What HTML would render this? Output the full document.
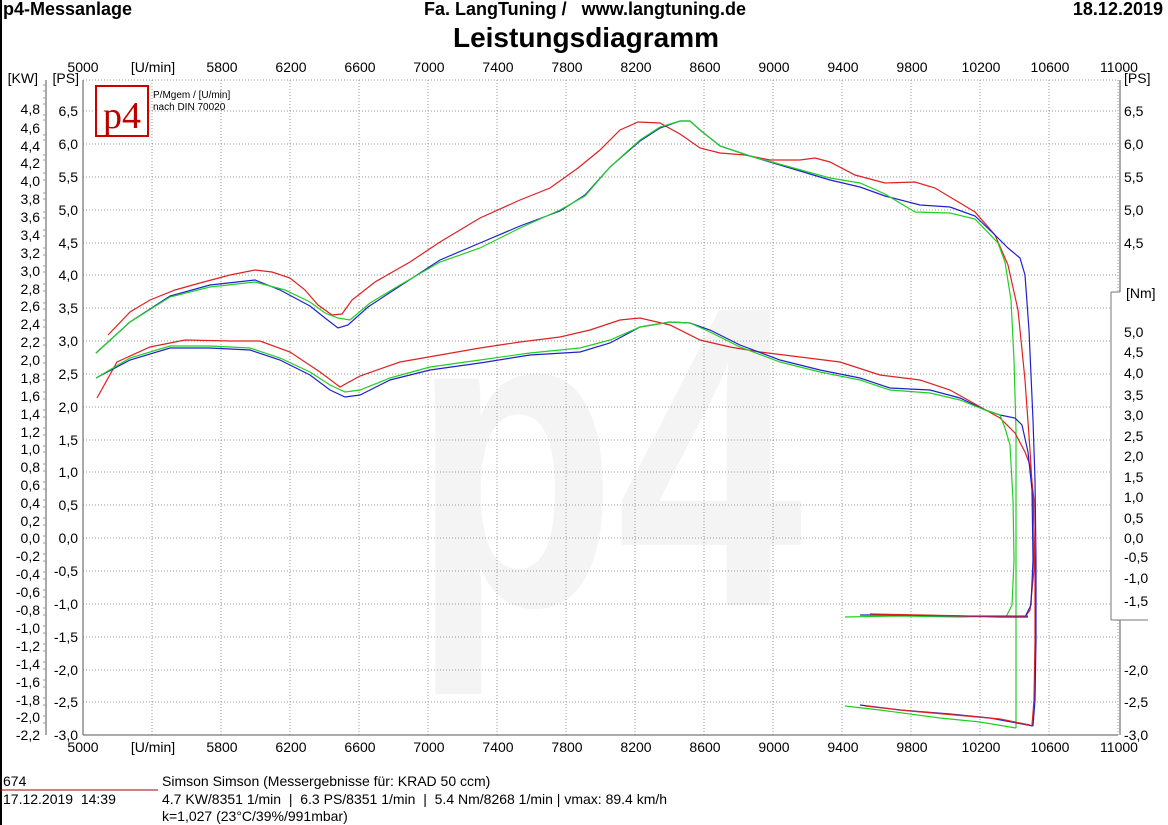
<!DOCTYPE html>
<html><head><meta charset="utf-8"><style>
body{margin:0;background:#fff;}
svg{display:block;font-family:"Liberation Sans",Arial,sans-serif;}
</style></head><body>
<svg width="1168" height="825" viewBox="0 0 1168 825" xmlns="http://www.w3.org/2000/svg">
<rect width="1168" height="825" fill="#fff"/>
<rect x="0" y="0" width="2" height="825" fill="#000"/>
<text transform="translate(412,605) scale(1,1.28)" font-size="335" font-weight="bold" fill="#f4f4f4" font-family="Liberation Sans,sans-serif">p4</text>
<text x="3" y="15" font-size="18" font-weight="bold">p4-Messanlage</text>
<text x="585" y="15" font-size="18" font-weight="bold" text-anchor="middle" xml:space="preserve">Fa. LangTuning /   www.langtuning.de</text>
<text x="1163" y="15" font-size="18" font-weight="bold" text-anchor="end">18.12.2019</text>
<text x="586" y="47" font-size="28" font-weight="bold" text-anchor="middle">Leistungsdiagramm</text>
<g stroke="#999" stroke-dasharray="1,2" stroke-width="1">
<line x1="152" y1="80" x2="152" y2="735"/><line x1="221" y1="80" x2="221" y2="735"/><line x1="290" y1="80" x2="290" y2="735"/><line x1="359" y1="80" x2="359" y2="735"/><line x1="428" y1="80" x2="428" y2="735"/><line x1="497" y1="80" x2="497" y2="735"/><line x1="566" y1="80" x2="566" y2="735"/><line x1="635" y1="80" x2="635" y2="735"/><line x1="704" y1="80" x2="704" y2="735"/><line x1="773" y1="80" x2="773" y2="735"/><line x1="842" y1="80" x2="842" y2="735"/><line x1="911" y1="80" x2="911" y2="735"/><line x1="980" y1="80" x2="980" y2="735"/><line x1="1049" y1="80" x2="1049" y2="735"/><line x1="1118" y1="80" x2="1118" y2="735"/>
<line x1="83" y1="80" x2="1118" y2="80"/>
<line x1="83" y1="111" x2="1118" y2="111"/><line x1="83" y1="144" x2="1118" y2="144"/><line x1="83" y1="177" x2="1118" y2="177"/><line x1="83" y1="210" x2="1118" y2="210"/><line x1="83" y1="243" x2="1118" y2="243"/><line x1="83" y1="275" x2="1118" y2="275"/><line x1="83" y1="308" x2="1118" y2="308"/><line x1="83" y1="341" x2="1118" y2="341"/><line x1="83" y1="374" x2="1118" y2="374"/><line x1="83" y1="407" x2="1118" y2="407"/><line x1="83" y1="440" x2="1118" y2="440"/><line x1="83" y1="472" x2="1118" y2="472"/><line x1="83" y1="505" x2="1118" y2="505"/><line x1="83" y1="538" x2="1118" y2="538"/><line x1="83" y1="571" x2="1118" y2="571"/><line x1="83" y1="604" x2="1118" y2="604"/><line x1="83" y1="637" x2="1118" y2="637"/><line x1="83" y1="670" x2="1118" y2="670"/><line x1="83" y1="702" x2="1118" y2="702"/>
</g>
<line x1="83" y1="80" x2="83" y2="735" stroke="#555"/>
<line x1="83" y1="735" x2="1118" y2="735" stroke="#555"/>
<g stroke="#555">
<line x1="46" y1="80" x2="46" y2="735"/><line x1="1120" y1="80" x2="1120" y2="735"/>
</g>
<g stroke="#999" stroke-width="1">
<path d="M43 85H46M43 91H46M43 98H46M43 104H46M43 115H46M43 120H46M43 135H46M43 140H46M43 155H46M43 160H46M43 173H46M43 180H46M43 193H46M43 199H46M43 212H46M43 218H46M43 230H46M43 236H46M43 248H46M43 255H46M43 266H46M43 272H46M43 284H46M43 291H46M43 303H46M43 309H46M43 320H46M43 327H46M43 338H46M43 345H46M43 356H46M43 363H46M43 374H46M43 380H46M43 392H46M43 399H46M43 410H46M43 417H46M43 428H46M43 435H46M43 446H46M43 452H46M43 464H46M43 471H46M43 482H46M43 489H46M43 500H46M43 507H46M43 518H46M43 525H46M43 536H46M43 543H46M43 554H46M43 561H46M43 572H46M43 579H46M43 590H46M43 597H46M43 608H46M43 615H46M43 626H46M43 633H46M43 644H46M43 651H46M43 662H46M43 669H46M43 680H46M43 687H46M43 698H46M43 705H46M43 716H46M43 723H46"/>
</g>
<g font-size="14" text-anchor="end">
<text x="38" y="83">[KW]</text>
<text x="40" y="114">4,8</text><text x="40" y="133">4,6</text><text x="40" y="151">4,4</text><text x="40" y="168">4,2</text><text x="40" y="186">4,0</text><text x="40" y="204">3,8</text><text x="40" y="222">3,6</text><text x="40" y="240">3,4</text><text x="40" y="258">3,2</text><text x="40" y="276">3,0</text><text x="40" y="294">2,8</text><text x="40" y="311">2,6</text><text x="40" y="329">2,4</text><text x="40" y="347">2,2</text><text x="40" y="365">2,0</text><text x="40" y="383">1,8</text><text x="40" y="401">1,6</text><text x="40" y="419">1,4</text><text x="40" y="437">1,2</text><text x="40" y="454">1,0</text><text x="40" y="472">0,8</text><text x="40" y="490">0,6</text><text x="40" y="508">0,4</text><text x="40" y="526">0,2</text><text x="40" y="543">0,0</text><text x="40" y="561">-0,2</text><text x="40" y="579">-0,4</text><text x="40" y="597">-0,6</text><text x="40" y="615">-0,8</text><text x="40" y="633">-1,0</text><text x="40" y="651">-1,2</text><text x="40" y="669">-1,4</text><text x="40" y="687">-1,6</text><text x="40" y="705">-1,8</text><text x="40" y="722">-2,0</text><text x="40" y="740">-2,2</text>
</g>
<g font-size="14" text-anchor="end">
<text x="79" y="83">[PS]</text>
<text x="78" y="116">6,5</text><text x="78" y="149">6,0</text><text x="78" y="182">5,5</text><text x="78" y="215">5,0</text><text x="78" y="248">4,5</text><text x="78" y="280">4,0</text><text x="78" y="313">3,5</text><text x="78" y="346">3,0</text><text x="78" y="379">2,5</text><text x="78" y="412">2,0</text><text x="78" y="445">1,5</text><text x="78" y="477">1,0</text><text x="78" y="510">0,5</text><text x="78" y="543">0,0</text><text x="78" y="576">-0,5</text><text x="78" y="609">-1,0</text><text x="78" y="642">-1,5</text><text x="78" y="675">-2,0</text><text x="78" y="707">-2,5</text><text x="78" y="740">-3,0</text>
</g>
<g font-size="14">
<text x="1124" y="83">[PS]</text>
<text x="1124" y="116">6,5</text><text x="1124" y="149">6,0</text><text x="1124" y="182">5,5</text><text x="1124" y="215">5,0</text><text x="1124" y="248">4,5</text>
<text x="1124" y="675">-2,0</text><text x="1124" y="707">-2,5</text><text x="1124" y="740">-3,0</text>
</g>
<rect x="1111" y="292" width="57" height="328" fill="#fff"/>
<line x1="1111" y1="292" x2="1111" y2="620" stroke="#777"/>
<line x1="1111" y1="620" x2="1148" y2="620" stroke="#777"/>
<line x1="1111" y1="292" x2="1120" y2="292" stroke="#777"/>
<g font-size="14">
<text x="1126" y="298">[Nm]</text>
<text x="1124" y="337">5,0</text><text x="1124" y="357">4,5</text><text x="1124" y="378">4,0</text><text x="1124" y="400">3,5</text><text x="1124" y="420">3,0</text><text x="1124" y="441">2,5</text><text x="1124" y="461">2,0</text><text x="1124" y="482">1,5</text><text x="1124" y="502">1,0</text><text x="1124" y="523">0,5</text><text x="1124" y="543">0,0</text><text x="1124" y="562">-0,5</text><text x="1124" y="583">-1,0</text><text x="1124" y="606">-1,5</text>
</g>
<g font-size="14" text-anchor="middle">
<text x="83" y="72">5000</text><text x="153" y="72">[U/min]</text><text x="222" y="72">5800</text><text x="291" y="72">6200</text><text x="360" y="72">6600</text><text x="429" y="72">7000</text><text x="498" y="72">7400</text><text x="567" y="72">7800</text><text x="636" y="72">8200</text><text x="705" y="72">8600</text><text x="774" y="72">9000</text><text x="843" y="72">9400</text><text x="912" y="72">9800</text><text x="981" y="72">10200</text><text x="1050" y="72">10600</text><text x="1119" y="72">11000</text>
<text x="83" y="752">5000</text><text x="153" y="752">[U/min]</text><text x="222" y="752">5800</text><text x="291" y="752">6200</text><text x="360" y="752">6600</text><text x="429" y="752">7000</text><text x="498" y="752">7400</text><text x="567" y="752">7800</text><text x="636" y="752">8200</text><text x="705" y="752">8600</text><text x="774" y="752">9000</text><text x="843" y="752">9400</text><text x="912" y="752">9800</text><text x="981" y="752">10200</text><text x="1050" y="752">10600</text><text x="1119" y="752">11000</text>
</g>
<rect x="96" y="86" width="52" height="50" fill="#fff" stroke="#c00" stroke-width="2"/>
<text x="122" y="128" font-size="38" fill="#b00" text-anchor="middle" font-family="Liberation Serif,serif">p4</text>
<text x="153" y="98" font-size="10">P/Mgem / [U/min]</text>
<text x="153" y="110" font-size="10">nach DIN 70020</text>
<g fill="none" stroke-width="1.2">
<polyline stroke="#e02020" points="108,335 130,312 150,300 175,290 200,283 230,275 255,270 272,272 290,278 305,290 318,305 332,315 342,314 352,300 375,282 410,262 440,242 480,218 520,200 550,188 578,168 600,150 620,130 638,122 660,123 680,134 700,148 720,153 745,155 770,160 800,160 815,158 830,162 855,175 885,183 915,182 935,188 955,200 975,212 995,235 1008,265 1018,310 1025,380 1030,450 1033,500 1035,560 1035,640 1034,700 1032,725"/>
<polyline stroke="#2020d0" points="96,353 130,322 170,296 210,285 255,280 280,290 310,306 325,318 338,328 348,325 368,307 400,286 440,260 480,243 520,226 560,211 585,195 610,167 640,141 660,128 680,121 690,121 700,130 720,146 750,156 790,168 830,180 860,187 885,196 920,205 950,207 975,216 995,235 1008,248 1020,258 1025,275 1029,330 1033,420 1035,480 1036,560 1036,640 1035,700 1033,726"/>
<polyline stroke="#20d020" points="96,353 130,322 170,297 210,287 255,282 285,290 310,302 325,313 338,318 350,320 370,303 400,285 440,262 480,248 520,228 560,210 585,196 610,167 640,140 660,127 680,121 690,121 700,130 720,146 750,156 790,167 830,178 860,183 885,194 915,212 950,213 975,219 998,243 1005,262 1011,300 1014,360 1016,430 1016,520 1016,600 1016,700 1016,728"/>
<polyline stroke="#e02020" points="97,398 117,362 150,347 185,340 230,341 260,341 290,352 320,372 340,387 360,376 400,362 440,355 480,348 520,342 560,337 590,330 620,320 640,318 670,325 700,340 730,347 760,352 800,357 840,362 880,375 920,380 950,390 975,404 1000,418 1015,433 1025,452 1030,465 1034,500 1034,570 1030,610 1025,617"/>
<polyline stroke="#2020d0" points="96,378 130,360 170,348 210,348 250,350 280,360 310,375 330,390 345,397 360,395 390,380 430,370 480,363 530,355 580,352 610,343 640,327 670,322 690,323 710,330 740,345 780,360 820,370 860,378 890,388 930,390 960,398 985,410 1000,415 1015,418 1022,425 1028,452 1032,490 1033,560 1031,605 1025,617"/>
<polyline stroke="#20d020" points="96,378 130,358 170,346 210,346 250,348 280,358 310,372 330,385 345,392 360,390 390,378 430,367 480,360 530,353 580,348 610,340 640,327 670,322 690,323 710,332 740,347 780,362 820,372 860,380 890,390 930,393 960,400 985,410 1000,415 1005,428 1010,445 1013,500 1014,560 1012,605 1006,617"/>
<polyline stroke="#20d020" points="845,617 900,616 960,617 1010,616"/>
<polyline stroke="#2020d0" points="860,615 900,615 960,616 1000,617 1028,617"/>
<polyline stroke="#e02020" points="870,614 920,615 970,616 1028,616"/>
<polyline stroke="#20d020" points="845,706 880,710 940,718 980,722 1016,728"/>
<polyline stroke="#2020d0" points="860,705 900,710 950,714 990,718 1033,726"/>
<polyline stroke="#e02020" points="865,706 910,711 955,715 1000,719 1030,725"/>
</g>
<text x="3" y="786" font-size="14">674</text>
<line x1="0" y1="790" x2="158" y2="790" stroke="#a00"/>
<text x="3" y="804" font-size="14" xml:space="preserve">17.12.2019  14:39</text>
<text x="162" y="786" font-size="14">Simson Simson (Messergebnisse für: KRAD 50 ccm)</text>
<text x="162" y="804" font-size="14" xml:space="preserve">4.7 KW/8351 1/min  |  6.3 PS/8351 1/min  |  5.4 Nm/8268 1/min | vmax: 89.4 km/h</text>
<text x="162" y="821" font-size="14">k=1,027 (23°C/39%/991mbar)</text>
</svg>
</body></html>
